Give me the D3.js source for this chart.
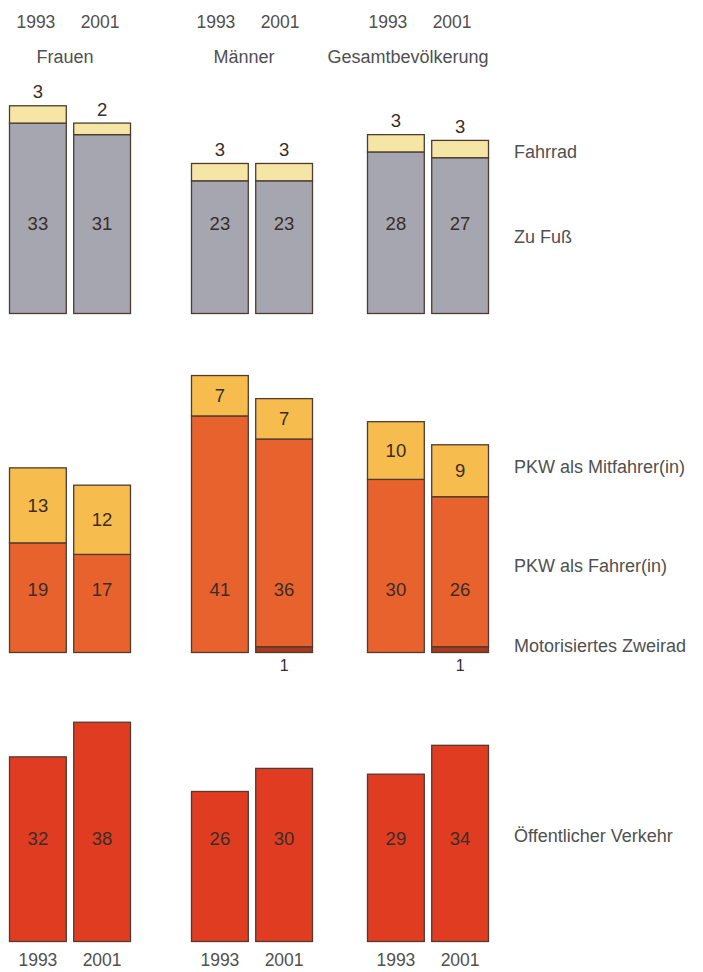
<!DOCTYPE html>
<html lang="de">
<head>
<meta charset="utf-8">
<script src="https://cdn.jsdelivr.net/npm/d3@7"></script>
<style>
  html, body { margin: 0; padding: 0; background: #ffffff; }
  svg { display: block; }
  text { font-family: "Liberation Sans", "DejaVu Sans", sans-serif; }
</style>
</head>
<body>
<svg id="chart" width="703" height="972"></svg>
<script>
// Population groups and survey years
const groups = ["Frauen", "Männer", "Gesamtbevölkerung"];
const years = ["1993", "2001"];

// Shares of trips (%) per mode, ordered [Frauen 1993, Frauen 2001, Männer 1993, Männer 2001, Gesamt 1993, Gesamt 2001]
const zuFuss       = [33, 31, 23, 23, 28, 27];
const fahrrad      = [3, 2, 3, 3, 3, 3];
const zweirad      = [0, 0, 0, 1, 0, 1];
const pkwFahrer    = [19, 17, 41, 36, 30, 26];
const pkwMitfahrer = [13, 12, 7, 7, 10, 9];
const oeffentlich  = [32, 38, 26, 30, 29, 34];

// Mode labels shown at the right edge
const modeLabels = ["Fahrrad", "Zu Fuß", "PKW als Mitfahrer(in)", "PKW als Fahrer(in)", "Motorisiertes Zweirad", "Öffentlicher Verkehr"];

const colors = {
  zuFuss: "#a5a6b0",
  fahrrad: "#f6e6a6",
  zweirad: "#a8381e",
  pkwFahrer: "#e8622e",
  pkwMitfahrer: "#f6bd4e",
  oeffentlich: "#e03c22"
};
const strokeCol = "#4e3c30";
const textCol = "#505050";
const numCol = "#3a2c28";

const svg = d3.select("#chart");

// Horizontal layout: group offsets and year bands inside a group
const groupX = d3.scaleOrdinal().domain(groups).range([9, 191, 367]);
const yearX = d3.scaleBand().domain(years).range([0, 122]).paddingInner(0.1);
const bw = yearX.bandwidth();

// One shared value scale (percentage points -> pixels)
const unit = d3.scaleLinear().domain([0, 1]).range([0, 5.77]);

// Row baselines
const rows = { top: 313, mid: 652, bottom: 941 };

// Build the per-bar records
const bars = [];
groups.forEach((g, gi) => {
  years.forEach((yr, yi) => {
    bars.push({ group: g, year: yr, i: gi * 2 + yi });
  });
});
const barX = d => groupX(d.group) + yearX(d.year);

function drawSeg(x, base, v0, v1, fill) {
  if (v1 - v0 <= 0) return;
  svg.append("rect")
    .attr("x", x + 0.5)
    .attr("y", base - unit(v1) + 0.5)
    .attr("width", bw - 1)
    .attr("height", unit(v1) - unit(v0))
    .attr("fill", fill)
    .attr("stroke", strokeCol)
    .attr("stroke-width", 1.3);
}

function num(x, y, t, size) {
  svg.append("text")
    .attr("x", x).attr("y", y)
    .attr("text-anchor", "middle")
    .attr("font-size", size || 18.5)
    .attr("fill", numCol)
    .text(t);
}

// Top row: walking + cycling
bars.forEach(d => {
  const x = barX(d), b = rows.top;
  const f = zuFuss[d.i], r = fahrrad[d.i];
  drawSeg(x, b, 0, f, colors.zuFuss);
  drawSeg(x, b, f, f + r, colors.fahrrad);
  num(x + bw / 2, 230, f);
  num(x + bw / 2, b - unit(f + r) - 7, r);
});

// Middle row: motorbike, car driver, car passenger
bars.forEach(d => {
  const x = barX(d), b = rows.mid;
  const z = zweirad[d.i], fa = pkwFahrer[d.i], mi = pkwMitfahrer[d.i];
  drawSeg(x, b, 0, z, colors.zweirad);
  drawSeg(x, b, z, z + fa, colors.pkwFahrer);
  drawSeg(x, b, z + fa, z + fa + mi, colors.pkwMitfahrer);
  num(x + bw / 2, 596, fa);
  num(x + bw / 2, b - unit(z + fa + mi / 2) + 7, mi);
  if (z > 0) num(x + bw / 2, b + 19, z, 16);
});

// Bottom row: public transport
bars.forEach(d => {
  const x = barX(d), b = rows.bottom;
  const v = oeffentlich[d.i];
  drawSeg(x, b, 0, v, colors.oeffentlich);
  num(x + bw / 2, 845, v);
});

// Year labels above and below the chart, group names on top
const yearShift = [-2, -4, -8];
bars.forEach(d => {
  const gi = groups.indexOf(d.group);
  const cx = barX(d) + bw / 2;
  svg.append("text")
    .attr("x", cx + yearShift[gi]).attr("y", 28)
    .attr("text-anchor", "middle").attr("font-size", 17.5)
    .attr("fill", textCol).text(d.year);
  svg.append("text")
    .attr("x", cx).attr("y", 966)
    .attr("text-anchor", "middle").attr("font-size", 17.5)
    .attr("fill", textCol).text(d.year);
});

const groupShift = [-5, -8, -20];
groups.forEach((g, gi) => {
  svg.append("text")
    .attr("x", groupX(g) + 61 + groupShift[gi]).attr("y", 63)
    .attr("text-anchor", "middle").attr("font-size", 18)
    .attr("fill", textCol).text(g);
});

// Mode labels on the right
const labelY = [158, 243, 473, 572, 652, 842];
modeLabels.forEach((t, k) => {
  svg.append("text")
    .attr("x", 514).attr("y", labelY[k])
    .attr("font-size", 18)
    .attr("fill", textCol)
    .text(t);
});
</script>
</body>
</html>
